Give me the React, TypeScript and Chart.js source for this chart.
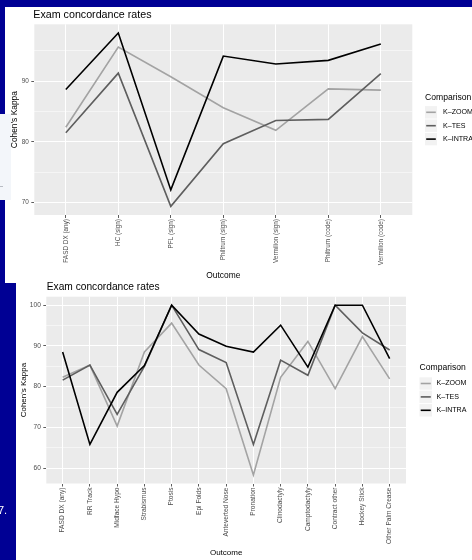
import React, { useEffect, useRef } from "react";
import { Chart, registerables } from "chart.js";

Chart.register(...registerables);

const FONT = '"Liberation Sans", Arial, Helvetica, sans-serif';

const seriesNames = ["K–ZOOM", "K–TES", "K–INTRA"];
const seriesColors = ["#a3a3a3", "#5e5e5e", "#000000"];

const topCategories = [
  "FASD DX (any)",
  "HC (sign)",
  "PFL (sign)",
  "Philtrum (sign)",
  "Vermilion (sign)",
  "Philtrum (code)",
  "Vermilion (code)",
];
const topZoom = [82.4, 95.6, 90.7, 85.6, 81.9, 88.7, 88.5];
const topTes = [81.5, 91.3, 69.4, 79.7, 83.5, 83.7, 91.2];
const topIntra = [88.6, 97.9, 72.1, 94.1, 92.8, 93.4, 96.1];
const topMajorTicks = [70, 80, 90];
const topMinorTicks = [75, 85, 95];

const bottomCategories = [
  "FASD DX (any)",
  "RR Track",
  "Midface Hypo",
  "Strabismus",
  "Ptosis",
  "Epi Folds",
  "Anteverted Nose",
  "Pronation",
  "Clinodactyly",
  "Camptodactyly",
  "Contract other",
  "Hockey Stick",
  "Other Palm Crease",
];
const bottomZoom = [82.3, 85.3, 70.3, 88.5, 95.6, 85.3, 79.5, 58.3, 82.3, 91.1, 79.5, 92.3, 81.9];
const bottomTes = [81.6, 85.3, 73.2, 85.0, 100, 89.1, 85.9, 65.8, 86.5, 82.8, 100, 93.2, 89.0];
const bottomIntra = [88.5, 65.8, 78.6, 85.2, 100, 92.9, 89.9, 88.5, 95.1, 84.8, 100, 100, 86.9];
const bottomMajorTicks = [60, 70, 80, 90, 100];
const bottomMinorTicks = [65, 75, 85, 95];

const chartTitle = "Exam concordance rates";
const xAxisTitle = "Outcome";
const yAxisTitle = "Cohen's Kappa";
const legendTitle = "Comparison";

const ggPlugin = {
  id: "gg",
  beforeDraw(chart: any, _args: any, opts: any) {
    const { ctx, chartArea: a } = chart;
    ctx.save();
    ctx.fillStyle = "#EBEBEB";
    ctx.fillRect(a.left, a.top, a.right - a.left, a.bottom - a.top);
    ctx.restore();
  },
  afterDraw(chart: any, _args: any, o: any) {
    const { ctx, chartArea: a } = chart;
    ctx.save();
    ctx.fillStyle = "#000";
    ctx.textBaseline = "middle";
    // title
    ctx.textAlign = "left";
    ctx.font = `${o.titleSize}px ${FONT}`;
    ctx.fillText(o.title, a.left + o.titleDx, o.titleY);
    // x title
    ctx.textAlign = "center";
    ctx.font = `${o.axisTitleSize}px ${FONT}`;
    ctx.fillText(o.xTitle, (a.left + a.right) / 2, o.xTitleY);
    // y title
    ctx.save();
    ctx.translate(o.yTitleX, (a.top + a.bottom) / 2);
    ctx.rotate(-Math.PI / 2);
    ctx.fillText(o.yTitle, 0, 0);
    ctx.restore();
    // legend
    ctx.textAlign = "left";
    ctx.font = `${o.legendTitleSize}px ${FONT}`;
    ctx.fillText(o.legendTitle, o.legendX, o.legendTitleY);
    chart.data.datasets.forEach((ds: any, i: number) => {
      const cy = o.legendRowY + i * o.legendRowGap;
      ctx.fillStyle = "#F2F2F2";
      ctx.fillRect(o.legendX, cy - o.keyH / 2, o.keyW, o.keyH);
      ctx.strokeStyle = ds.borderColor;
      ctx.lineWidth = ds.borderWidth;
      ctx.beginPath();
      ctx.moveTo(o.legendX + 1.2, cy);
      ctx.lineTo(o.legendX + o.keyW - 1.2, cy);
      ctx.stroke();
      ctx.fillStyle = "#000";
      ctx.font = `${o.labelSize}px ${FONT}`;
      ctx.fillText(ds.label, o.legendX + o.labelDx, cy);
    });
    ctx.restore();
  },
};

type Props = {
  cats: string[];
  series: number[][];
  majors: number[];
  minors: number[];
  width: number;
  height: number;
  padTop: number;
  padRight: number;
  yAxisWidth: number;
  xAxisHeight: number;
  tickSize: number;
  deco: any;
};

function GGChart(p: Props) {
  const ref = useRef<HTMLCanvasElement>(null);
  useEffect(() => {
    const all = p.series.flat();
    const lo = Math.min(...all);
    const hi = Math.max(...all);
    const span = hi - lo;
    const isMajor = (v: number) => p.majors.includes(v);
    const chart = new Chart(ref.current as HTMLCanvasElement, {
      type: "line",
      data: {
        datasets: seriesNames.map((name, i) => ({
          label: name,
          data: p.series[i].map((v, j) => ({ x: j, y: v })),
          borderColor: seriesColors[i],
          backgroundColor: seriesColors[i],
          borderWidth: 1.6,
          pointRadius: 0,
          tension: 0,
          fill: false,
          order: seriesNames.length - 1 - i,
        })),
      },
      options: {
        responsive: false,
        animation: false,
        devicePixelRatio: 1,
        events: [],
        layout: { padding: { top: p.padTop, right: p.padRight, left: 0, bottom: 0 } },
        plugins: {
          legend: { display: false },
          title: { display: false },
          tooltip: { enabled: false },
          gg: p.deco,
        } as any,
        scales: {
          x: {
            type: "linear",
            min: -0.6,
            max: p.cats.length - 0.4,
            afterBuildTicks: (s: any) => {
              s.ticks = p.cats.map((_, i) => ({ value: i }));
            },
            afterFit: (s: any) => {
              s.height = p.xAxisHeight;
            },
            ticks: {
              autoSkip: false,
              minRotation: 90,
              maxRotation: 90,
              padding: 1,
              color: "#4d4d4d",
              font: { family: FONT, size: p.tickSize },
              callback: (v: any) => p.cats[v] ?? "",
            },
            grid: {
              color: "#ffffff",
              lineWidth: 1,
              tickLength: 3,
              tickColor: "#333333",
              tickWidth: 0.8,
            },
            border: { display: false },
          },
          y: {
            type: "linear",
            min: lo - 0.05 * span,
            max: hi + 0.05 * span,
            afterBuildTicks: (s: any) => {
              s.ticks = [...p.majors, ...p.minors]
                .sort((a, b) => a - b)
                .map((v) => ({ value: v }));
            },
            afterFit: (s: any) => {
              s.width = p.yAxisWidth;
            },
            ticks: {
              padding: 2.5,
              color: "#4d4d4d",
              font: { family: FONT, size: p.tickSize },
              callback: (v: any) => (isMajor(v) ? String(v) : ""),
            },
            grid: {
              color: "#ffffff",
              lineWidth: (c: any) => (c.tick && isMajor(c.tick.value) ? 1 : 0.5),
              tickLength: 3,
              tickColor: (c: any) =>
                c.tick && isMajor(c.tick.value) ? "#333333" : "rgba(0,0,0,0)",
              tickWidth: 0.8,
            },
            border: { display: false },
          },
        },
      } as any,
      plugins: [ggPlugin as any],
    });
    return () => chart.destroy();
  }, []);
  return (
    <canvas
      ref={ref}
      width={p.width}
      height={p.height}
      style={{ width: p.width, height: p.height, display: "block" }}
    />
  );
}

export default function App() {
  const BLUE = "#000094";
  return (
    <div
      style={{
        position: "fixed",
        left: 0,
        top: 0,
        width: 472,
        height: 560,
        background: BLUE,
        overflow: "hidden",
      }}
    >
      <div style={{ position: "absolute", left: 5, top: 7, width: 467, height: 276, background: "#fff" }} />
      <div style={{ position: "absolute", left: 0, top: 114, width: 11, height: 86, background: "#F3F6FA" }} />
      <div style={{ position: "absolute", left: 0, top: 186, width: 3, height: 1, background: "#b8bcc4" }} />
      <div style={{ position: "absolute", left: 16, top: 283, width: 456, height: 277, background: "#fff" }} />
      <div style={{ position: "absolute", left: 5, top: 7 }}>
        <GGChart
          cats={topCategories}
          series={[topZoom, topTes, topIntra]}
          majors={topMajorTicks}
          minors={topMinorTicks}
          width={467}
          height={276}
          padTop={17.3}
          padRight={59.7}
          yAxisWidth={29.3}
          xAxisHeight={68}
          tickSize={6.4}
          deco={{
            title: chartTitle,
            titleSize: 10.7,
            titleDx: -1,
            titleY: 8,
            xTitle: xAxisTitle,
            yTitle: yAxisTitle,
            axisTitleSize: 8.4,
            xTitleY: 268.3,
            yTitleX: 10,
            legendTitle: legendTitle,
            legendTitleSize: 8.6,
            legendX: 420,
            legendTitleY: 91,
            legendRowY: 105.3,
            legendRowGap: 13.4,
            keyW: 12,
            keyH: 12.4,
            labelSize: 7.1,
            labelDx: 18,
          }}
        />
      </div>
      <div style={{ position: "absolute", left: 16, top: 280 }}>
        <GGChart
          cats={bottomCategories}
          series={[bottomZoom, bottomTes, bottomIntra]}
          majors={bottomMajorTicks}
          minors={bottomMinorTicks}
          width={456}
          height={280}
          padTop={16.7}
          padRight={66}
          yAxisWidth={30.3}
          xAxisHeight={76.5}
          tickSize={6.6}
          deco={{
            title: chartTitle,
            titleSize: 10.2,
            titleDx: 0.5,
            titleY: 7.5,
            xTitle: xAxisTitle,
            yTitle: yAxisTitle,
            axisTitleSize: 8,
            xTitleY: 272.7,
            yTitleX: 8,
            legendTitle: legendTitle,
            legendTitleSize: 8.6,
            legendX: 403.5,
            legendTitleY: 87.5,
            legendRowY: 103.5,
            legendRowGap: 13.4,
            keyW: 12.5,
            keyH: 12.4,
            labelSize: 7.1,
            labelDx: 17,
          }}
        />
      </div>
      <div
        style={{
          position: "absolute",
          left: -2,
          top: 503,
          color: "#fff",
          font: `11px ${FONT}`,
          lineHeight: "14px",
        }}
      >
        7.
      </div>
    </div>
  );
}
